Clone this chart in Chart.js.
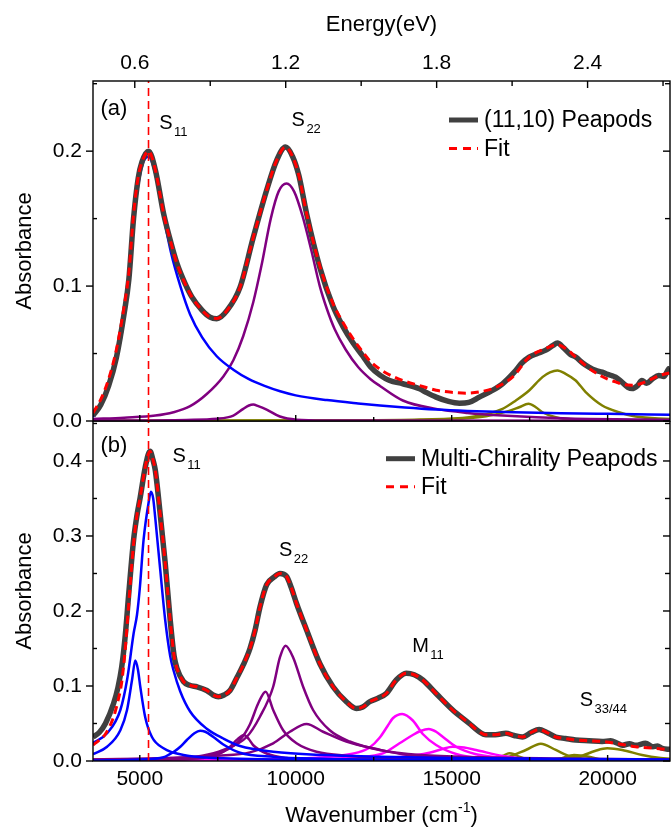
<!DOCTYPE html>
<html><head><meta charset="utf-8">
<script src="https://cdn.jsdelivr.net/npm/chart.js@4.4.1/dist/chart.umd.min.js"></script>
<style>
html,body{margin:0;padding:0;background:#fff;}
#wrap{position:relative;width:671px;height:833px;overflow:hidden;background:#fff;}
canvas{position:absolute;left:0;}
#cTop{top:0;width:671px;height:440px;}
#cBot{top:421px;width:671px;height:412px;}
</style></head><body>
<div id="wrap"><canvas id="cTop" width="671" height="440"></canvas><canvas id="cBot" width="671" height="412"></canvas></div>
<script>
// ---------- axis ranges and tick labels ----------
const waveMin = 3500, waveMax = 22000;
const cmPerEV = 8065.54;
const waveTicks = [5000, 7500, 10000, 12500, 15000, 17500, 20000];
const waveLabels = ['5000', '', '10000', '', '15000', '', '20000'];
const energyTicks = [0.6, 0.9, 1.2, 1.5, 1.8, 2.1, 2.4, 2.7];
const energyLabels = ['0.6', '', '1.2', '', '1.8', '', '2.4', ''];
const absMaxA = 0.252, absMaxB = 0.4533;
const absTicksA = [0, 0.05, 0.1, 0.15, 0.2, 0.25];
const absLabelsA = ['0.0', '', '0.1', '', '0.2', ''];
const absTicksB = [0, 0.05, 0.1, 0.15, 0.2, 0.25, 0.3, 0.35, 0.4, 0.45];
const absLabelsB = ['0.0', '', '0.1', '', '0.2', '', '0.3', '', '0.4', ''];
const s11Position = 5280;

// ---------- panel (a): (11,10) peapods ----------
const topMeasured = [[3500,0.004],[3750,0.012],[4000,0.026],[4250,0.047],[4500,0.080],[4650,0.105],[4800,0.150],[4950,0.180],[5070,0.192],[5280,0.200],[5500,0.186],[5761,0.154],[6000,0.132],[6189,0.117],[6450,0.102],[6669,0.092],[7000,0.082],[7250,0.077],[7468,0.0758],[7800,0.082],[8213,0.099],[8638,0.136],[9067,0.171],[9386,0.193],[9674,0.203],[9900,0.196],[10100,0.182],[10345,0.154],[10771,0.114],[11196,0.085],[11515,0.070],[11835,0.058],[12155,0.048],[12400,0.040],[12700,0.034],[13009,0.030],[13434,0.0276],[13968,0.0239],[14200,0.021],[14501,0.0177],[14900,0.0145],[15246,0.0132],[15550,0.0138],[15886,0.0177],[16250,0.022],[16631,0.0276],[17000,0.036],[17250,0.043],[17484,0.0474],[17750,0.0500],[18018,0.0525],[18250,0.0560],[18389,0.0578],[18600,0.0540],[18800,0.0495],[18977,0.0474],[19200,0.043],[19400,0.040],[19616,0.0375],[19827,0.0362],[20000,0.0345],[20150,0.0335],[20256,0.0325],[20450,0.029],[20650,0.025],[20787,0.024],[20950,0.026],[21100,0.030],[21250,0.028],[21426,0.031],[21640,0.0338],[21800,0.033],[21960,0.0387],[22000,0.039]];
const topFit = [[3500,0.006],[3750,0.016],[4000,0.031],[4250,0.053],[4500,0.085],[4650,0.110],[4800,0.153],[4950,0.181],[5070,0.192],[5280,0.200],[5500,0.186],[5761,0.154],[6000,0.132],[6189,0.117],[6450,0.102],[6669,0.092],[7000,0.082],[7250,0.077],[7468,0.076],[7800,0.082],[8213,0.099],[8638,0.136],[9067,0.171],[9386,0.193],[9674,0.203],[9900,0.196],[10100,0.182],[10345,0.154],[10771,0.115],[11196,0.087],[11515,0.073],[11835,0.061],[12155,0.051],[12400,0.044],[12794,0.037],[13434,0.030],[13968,0.0263],[14501,0.0228],[15032,0.0212],[15461,0.0206],[16000,0.022],[16420,0.025],[16950,0.0325],[17484,0.0474],[18000,0.0535],[18389,0.0565],[18700,0.053],[18977,0.0474],[19300,0.041],[19616,0.0357],[20000,0.031],[20256,0.029],[20500,0.027],[20787,0.0265],[21100,0.028],[21426,0.0313],[21700,0.034],[22000,0.0357]];
const topBlueS11 = [[3500,0.003],[3843,0.016],[4162,0.038],[4431,0.066],[4600,0.095],[4800,0.148],[5050,0.187],[5280,0.196],[5500,0.183],[5761,0.152],[6000,0.125],[6300,0.100],[6614,0.079],[7000,0.062],[7468,0.048],[8000,0.038],[8500,0.031],[9000,0.026],[9500,0.022],[10000,0.019],[11000,0.0155],[12000,0.013],[12700,0.0115],[13500,0.010],[14500,0.0085],[15500,0.0075],[17000,0.0065],[18500,0.0058],[20000,0.0053],[22000,0.0047]];
const topPurpleS22 = [[3500,0.0015],[4500,0.0025],[5500,0.004],[6081,0.0065],[6614,0.011],[7148,0.020],[7679,0.033],[8000,0.045],[8318,0.063],[8638,0.088],[8900,0.115],[9200,0.150],[9450,0.170],[9706,0.176],[9950,0.170],[10217,0.152],[10505,0.126],[10771,0.100],[11000,0.083],[11250,0.068],[11600,0.053],[12000,0.040],[12400,0.031],[12700,0.026],[13434,0.0152],[14501,0.009],[15500,0.006],[16631,0.004],[18763,0.0018],[22000,0.001]];
const topPurpleSmall = [[3500,0.0003],[6500,0.0008],[7468,0.0016],[8000,0.004],[8318,0.009],[8500,0.0115],[8638,0.0122],[8800,0.011],[9067,0.0085],[9492,0.0033],[10026,0.001],[11000,0.0004],[22000,0.0001]];
const topOlive1 = [[3500,0],[12000,0.0005],[14500,0.001],[15500,0.002],[16100,0.0035],[16845,0.0075],[17164,0.0102],[17462,0.0128],[17698,0.0102],[17909,0.0065],[18338,0.0028],[19000,0.001],[22000,0.0002]];
const topOlive2 = [[3500,0.0002],[12000,0.0006],[14000,0.0012],[15566,0.0028],[16631,0.009],[17058,0.0152],[17484,0.0226],[17909,0.0325],[18150,0.036],[18389,0.0375],[18650,0.035],[18977,0.030],[19297,0.0214],[19827,0.0115],[20361,0.0065],[20895,0.0033],[22000,0.0014]];

// ---------- panel (b): multi-chirality peapods ----------
const botMeasured = [[3500,0.032],[3700,0.038],[3900,0.050],[4162,0.077],[4300,0.098],[4420,0.125],[4536,0.168],[4650,0.225],[4802,0.295],[4900,0.325],[5016,0.352],[5176,0.392],[5330,0.413],[5420,0.402],[5496,0.388],[5655,0.329],[5815,0.264],[5975,0.188],[6100,0.140],[6189,0.124],[6400,0.106],[6600,0.101],[6829,0.099],[7148,0.094],[7350,0.088],[7520,0.0857],[7700,0.088],[7893,0.094],[8100,0.110],[8318,0.128],[8533,0.150],[8700,0.175],[8852,0.205],[9067,0.235],[9300,0.245],[9492,0.250],[9706,0.246],[9850,0.232],[10026,0.210],[10345,0.175],[10771,0.130],[11196,0.099],[11624,0.079],[11944,0.070],[12150,0.072],[12369,0.079],[12650,0.084],[12903,0.090],[13223,0.108],[13543,0.117],[13800,0.115],[14073,0.108],[14501,0.090],[15032,0.068],[15566,0.050],[15850,0.040],[16100,0.035],[16400,0.035],[16739,0.037],[17000,0.034],[17270,0.032],[17550,0.038],[17804,0.042],[18050,0.038],[18338,0.032],[18650,0.030],[18977,0.028],[19400,0.027],[19827,0.026],[20100,0.027],[20300,0.024],[20467,0.021],[20700,0.023],[20900,0.021],[21215,0.0236],[21450,0.019],[21600,0.020],[21746,0.017],[21960,0.0156],[22000,0.0155]];
const botFit = [[3500,0.0213],[3700,0.028],[3900,0.036],[4162,0.059],[4300,0.080],[4420,0.105],[4536,0.150],[4650,0.212],[4802,0.290],[4900,0.325],[5016,0.352],[5176,0.392],[5330,0.413],[5420,0.402],[5496,0.388],[5655,0.329],[5815,0.264],[5975,0.188],[6100,0.140],[6189,0.124],[6400,0.106],[6600,0.101],[6829,0.099],[7148,0.094],[7350,0.088],[7520,0.0857],[7700,0.088],[7893,0.094],[8100,0.110],[8318,0.128],[8533,0.150],[8700,0.175],[8852,0.205],[9067,0.235],[9300,0.245],[9492,0.250],[9706,0.246],[9850,0.232],[10026,0.210],[10345,0.175],[10771,0.130],[11196,0.099],[11624,0.079],[11944,0.070],[12150,0.072],[12369,0.079],[12650,0.084],[12903,0.090],[13223,0.108],[13543,0.117],[13800,0.115],[14073,0.108],[14501,0.090],[15032,0.068],[15566,0.050],[15850,0.040],[16100,0.035],[16400,0.035],[16739,0.037],[17000,0.034],[17270,0.032],[17550,0.038],[17804,0.042],[18050,0.038],[18338,0.032],[18650,0.030],[18977,0.028],[19400,0.027],[19827,0.026],[20467,0.022],[20895,0.019],[21500,0.017],[22000,0.015]];
const botBlue1 = [[3500,0.009],[3951,0.019],[4377,0.041],[4591,0.068],[4751,0.108],[4856,0.134],[4940,0.122],[5016,0.099],[5176,0.058],[5390,0.032],[5761,0.017],[6400,0.008],[7679,0.0036],[9277,0.002],[12000,0.001],[22000,0.0003]];
const botBlue2 = [[3500,0.024],[3951,0.037],[4377,0.068],[4600,0.110],[4802,0.170],[4911,0.195],[5000,0.230],[5122,0.295],[5281,0.344],[5358,0.359],[5430,0.350],[5496,0.324],[5655,0.255],[5815,0.188],[5975,0.140],[6081,0.121],[6295,0.093],[6614,0.066],[7148,0.043],[7679,0.030],[8213,0.020],[9277,0.0124],[10876,0.008],[12689,0.0058],[15000,0.004],[18000,0.003],[22000,0.002]];
const botBlue3 = [[3500,0.0005],[5000,0.002],[5761,0.005],[6081,0.012],[6300,0.019],[6509,0.028],[6750,0.037],[6934,0.0404],[7100,0.039],[7359,0.032],[7679,0.022],[8213,0.011],[9277,0.0055],[10876,0.003],[14000,0.0015],[22000,0.0005]];
const botPurple1 = [[3500,0.001],[6081,0.002],[7000,0.004],[7468,0.008],[7893,0.019],[8107,0.028],[8341,0.0347],[8500,0.029],[8638,0.021],[9067,0.010],[9700,0.004],[11000,0.0015],[22000,0.0003]];
const botPurple2 = [[3500,0.001],[6000,0.003],[7000,0.006],[7679,0.0124],[8213,0.028],[8533,0.049],[8799,0.077],[9035,0.0924],[9277,0.068],[9597,0.041],[10026,0.0236],[10665,0.0124],[11730,0.0067],[12689,0.004],[15000,0.002],[22000,0.0008]];
const botPurple3 = [[3500,0.002],[6000,0.004],[7000,0.007],[7679,0.0147],[8427,0.032],[8852,0.059],[9277,0.099],[9492,0.138],[9674,0.1538],[9917,0.138],[10237,0.099],[10556,0.068],[11090,0.041],[11730,0.026],[12689,0.0147],[14000,0.008],[16000,0.005],[19000,0.003],[22000,0.002]];
const botPurple4 = [[3500,0.002],[6000,0.004],[7500,0.007],[8533,0.0115],[9277,0.0236],[9812,0.039],[10345,0.0493],[10876,0.039],[11624,0.0258],[12689,0.015],[13434,0.009],[14500,0.0055],[16000,0.0035],[19000,0.002],[22000,0.0012]];
const botMagenta1 = [[3500,0.0005],[9000,0.002],[10500,0.004],[11400,0.007],[12000,0.0115],[12369,0.018],[12689,0.031],[12950,0.047],[13114,0.057],[13414,0.0627],[13754,0.054],[14073,0.036],[14501,0.0213],[15141,0.0093],[15886,0.0036],[17000,0.0015],[22000,0.0005]];
const botMagenta2 = [[3500,0.0003],[10000,0.002],[12000,0.005],[12794,0.0102],[13328,0.0236],[13754,0.0347],[14000,0.040],[14265,0.0427],[14500,0.039],[14712,0.0324],[15141,0.019],[15780,0.009],[16845,0.0036],[19000,0.0012],[22000,0.0005]];
const botMagenta3 = [[3500,0.0002],[11000,0.002],[13434,0.0058],[14287,0.011],[14700,0.016],[15032,0.019],[15400,0.018],[15780,0.0147],[16631,0.0067],[17500,0.0025],[19000,0.001],[22000,0.0004]];
const botOlive1 = [[3500,0],[14000,0.0005],[15500,0.001],[16206,0.002],[16631,0.0067],[16845,0.0102],[17000,0.009],[17164,0.0058],[17500,0.002],[18500,0.0005],[22000,0.0001]];
const botOlive2 = [[3500,0.0002],[14000,0.001],[16000,0.002],[16845,0.0058],[17378,0.0147],[17858,0.0231],[18338,0.0147],[18763,0.0067],[19500,0.002],[22000,0.0005]];
const botOlive3 = [[3500,0],[17000,0.0005],[18443,0.003],[18923,0.008],[19403,0.0058],[19800,0.002],[22000,0.0003]];
const botOlive4 = [[3500,0.0001],[16000,0.0008],[18000,0.002],[19083,0.0058],[19616,0.0137],[19988,0.0169],[20467,0.0147],[21106,0.008],[21700,0.004],[22000,0.003]];

// ---------- text ----------
const legendA = ['(11,10) Peapods', 'Fit'];
const legendB = ['Multi-Chirality Peapods', 'Fit'];
const labelsA = [{t:'(a)', s:'', x:3737, y:0.2312, big:true}, {t:'S', s:'11', x:5623, y:0.2206}, {t:'S', s:'22', x:9866, y:0.223}];
const labelsB = [{t:'(b)', s:'', x:3737, y:0.420, big:true}, {t:'S', s:'11', x:6049, y:0.4057}, {t:'S', s:'22', x:9460, y:0.2813}, {t:'M', s:'11', x:13734, y:0.1524}, {t:'S', s:'33/44', x:19105, y:0.0803}];

// ---------- styling ----------
const FONT = "'Liberation Sans', Arial, Helvetica, sans-serif";
const tickFont = {family: FONT, size: 21};
const titleFont = {family: FONT, size: 22};
const C = {data:'#404040', fit:'#ff0000', blue:'#0000ff', purple:'#800080', magenta:'#ff00ff', olive:'#808000'};
const compW = 2.5;

const toXY = arr => arr.map(([x, y]) => ({x, y}));
function line(arr, color, width, order, dash) {
  return {data: toXY(arr), borderColor: color, borderWidth: width, pointRadius: 0, fill: false,
    cubicInterpolationMode: 'monotone', borderDash: dash || [], order: order, borderJoinStyle: 'round'};
}
function vline(ymax) {
  return {data: [{x: s11Position, y: 0}, {x: s11Position, y: ymax}], borderColor: C.fit, borderWidth: 1.6,
    pointRadius: 0, fill: false, tension: 0, borderDash: [8, 5], order: 1};
}
function fixed(values, labels) {
  return {
    afterBuildTicks: s => { s.ticks = values.map(v => ({value: v})); },
    cb: (v, i) => labels[i]
  };
}
function seg(ctx, x1, y1, x2, y2) { ctx.beginPath(); ctx.moveTo(x1, y1); ctx.lineTo(x2, y2); ctx.stroke(); }

function makeDeco(cfg) {
  return {
    id: 'deco',
    afterDatasetsDraw(chart) {
      const {ctx, chartArea: a, scales} = chart;
      ctx.save();
      ctx.strokeStyle = '#000'; ctx.lineWidth = 1.4; ctx.setLineDash([]);
      ctx.strokeRect(a.left, a.top, a.right - a.left, a.bottom - a.top);
      const y = scales.y;
      y.ticks.forEach((t, i) => {
        const p = y.getPixelForValue(t.value);
        const major = cfg.yLabels[i] !== '';
        if (major) seg(ctx, a.left - 7, p, a.left, p); else seg(ctx, a.left, p, a.left + 4, p);
        seg(ctx, a.right, p, a.right - (major ? 7 : 5), p);
      });
      const x = scales.x;
      x.ticks.forEach((t, i) => {
        const p = x.getPixelForValue(t.value);
        seg(ctx, p, a.bottom, p, a.bottom - (waveLabels[i] !== '' ? 6 : 4));
      });
      if (scales.xE) {
        scales.xE.ticks.forEach((t, i) => {
          const p = scales.xE.getPixelForValue(t.value);
          seg(ctx, p, a.top, p, a.top + (energyLabels[i] !== '' ? 7 : 5));
        });
      }
      ctx.restore();
    },
    afterDraw(chart) {
      const {ctx, chartArea: a, scales} = chart;
      ctx.save();
      // legend
      const L = cfg.legend;
      L.items.forEach((txt, i) => {
        const yy = L.y + i * L.dy;
        ctx.lineCap = 'butt';
        if (i === 0) { ctx.strokeStyle = C.data; ctx.lineWidth = 5; ctx.setLineDash([]); }
        else { ctx.strokeStyle = C.fit; ctx.lineWidth = 3; ctx.setLineDash([8, 6]); }
        seg(ctx, L.x, yy, L.x + 29, yy);
        ctx.setLineDash([]);
        ctx.fillStyle = '#000'; ctx.font = '23px ' + FONT; ctx.textAlign = 'left'; ctx.textBaseline = 'middle';
        ctx.fillText(txt, L.x + 35, yy + 1);
      });
      // annotations at data coordinates
      cfg.labels.forEach(l => {
        const px = scales.x.getPixelForValue(l.x), py = scales.y.getPixelForValue(l.y);
        ctx.fillStyle = '#000'; ctx.textAlign = 'left'; ctx.textBaseline = 'middle';
        ctx.font = (l.big ? 22 : 20) + 'px ' + FONT;
        ctx.fillText(l.t, px, py);
        if (l.s) {
          const w = ctx.measureText(l.t).width;
          ctx.font = '13px ' + FONT;
          ctx.fillText(l.s, px + w + 1.5, py + 9);
        }
      });
      // bottom axis title with superscript
      if (cfg.waveTitle) {
        const cx = (a.left + a.right) / 2, ty = a.bottom + 55;
        ctx.fillStyle = '#000'; ctx.textBaseline = 'middle'; ctx.textAlign = 'left';
        const p1 = 'Wavenumber (cm', p2 = '-1', p3 = ')';
        ctx.font = '22px ' + FONT; const w1 = ctx.measureText(p1).width, w3 = ctx.measureText(p3).width;
        ctx.font = '14px ' + FONT; const w2 = ctx.measureText(p2).width;
        let sx = cx - (w1 + w2 + w3) / 2;
        ctx.font = '22px ' + FONT; ctx.fillText(p1, sx, ty);
        ctx.font = '14px ' + FONT; ctx.fillText(p2, sx + w1, ty - 8);
        ctx.font = '22px ' + FONT; ctx.fillText(p3, sx + w1 + w2, ty);
      }
      ctx.restore();
    }
  };
}

const baseOpts = {
  responsive: false, animation: false, devicePixelRatio: 1, events: [],
  layout: {padding: {left: 0, right: 1, top: 0, bottom: 0}},
  plugins: {legend: {display: false}, tooltip: {enabled: false}}
};
const off = {grid: {display: false, drawTicks: false}, border: {display: false}};

// ---------- top chart ----------
const fxA = fixed(waveTicks, waveLabels), feA = fixed(energyTicks, energyLabels), fyA = fixed(absTicksA, absLabelsA);
new Chart(document.getElementById('cTop'), {
  type: 'line',
  data: {datasets: [
    vline(absMaxA),
    line(topFit, C.fit, 3, 2, [8, 5]),
    line(topMeasured, C.data, 5.5, 3),
    line(topBlueS11, C.blue, compW, 4),
    line(topPurpleS22, C.purple, compW, 4),
    line(topPurpleSmall, C.purple, compW, 4),
    line(topOlive1, C.olive, compW, 4),
    line(topOlive2, C.olive, compW, 4)
  ]},
  options: Object.assign({}, baseOpts, {
    scales: {
      x: Object.assign({type: 'linear', position: 'bottom', min: waveMin, max: waveMax,
        ticks: {display: false, autoSkip: false},
        afterBuildTicks: fxA.afterBuildTicks,
        afterFit: s => { s.height = 19; s.paddingLeft = 0; s.paddingRight = 0; }}, off),
      xE: Object.assign({type: 'linear', position: 'top', min: waveMin / cmPerEV, max: waveMax / cmPerEV,
        ticks: {font: tickFont, color: '#000', padding: 5, autoSkip: false, maxRotation: 0, callback: feA.cb},
        afterBuildTicks: feA.afterBuildTicks,
        title: {display: true, text: 'Energy(eV)', font: titleFont, color: '#000', padding: {top: 12, bottom: 0}},
        afterFit: s => { s.height = 81; s.paddingLeft = 0; s.paddingRight = 0; }}, off),
      y: Object.assign({type: 'linear', position: 'left', min: 0, max: absMaxA,
        ticks: {font: tickFont, color: '#000', padding: 11, autoSkip: false, callback: fyA.cb},
        afterBuildTicks: fyA.afterBuildTicks,
        title: {display: true, text: 'Absorbance', font: titleFont, color: '#000', padding: {top: 12, bottom: 0}},
        afterFit: s => { s.width = 93; s.paddingTop = 0; s.paddingBottom = 0; }}, off)
    }
  }),
  plugins: [makeDeco({yLabels: absLabelsA, legend: {items: legendA, x: 449, y: 120, dy: 28.5}, labels: labelsA})]
});

// ---------- bottom chart ----------
const fxB = fixed(waveTicks, waveLabels), fyB = fixed(absTicksB, absLabelsB);
new Chart(document.getElementById('cBot'), {
  type: 'line',
  data: {datasets: [
    vline(absMaxB),
    line(botFit, C.fit, 3, 2, [8, 5]),
    line(botMeasured, C.data, 5.5, 3),
    line(botBlue1, C.blue, compW, 4),
    line(botBlue2, C.blue, compW, 4),
    line(botBlue3, C.blue, compW, 4),
    line(botPurple1, C.purple, compW, 4),
    line(botPurple2, C.purple, compW, 4),
    line(botPurple3, C.purple, compW, 4),
    line(botPurple4, C.purple, compW, 4),
    line(botMagenta1, C.magenta, compW, 4),
    line(botMagenta2, C.magenta, compW, 4),
    line(botMagenta3, C.magenta, compW, 4),
    line(botOlive1, C.olive, compW, 4),
    line(botOlive2, C.olive, compW, 4),
    line(botOlive3, C.olive, compW, 4),
    line(botOlive4, C.olive, compW, 4)
  ]},
  options: Object.assign({}, baseOpts, {
    scales: {
      x: Object.assign({type: 'linear', position: 'bottom', min: waveMin, max: waveMax,
        ticks: {font: tickFont, color: '#000', padding: 6, autoSkip: false, maxRotation: 0, callback: fxB.cb},
        afterBuildTicks: fxB.afterBuildTicks,
        afterFit: s => { s.height = 72; s.paddingLeft = 0; s.paddingRight = 0; }}, off),
      y: Object.assign({type: 'linear', position: 'left', min: 0, max: absMaxB,
        ticks: {font: tickFont, color: '#000', padding: 11, autoSkip: false, callback: fyB.cb},
        afterBuildTicks: fyB.afterBuildTicks,
        title: {display: true, text: 'Absorbance', font: titleFont, color: '#000', padding: {top: 12, bottom: 0}},
        afterFit: s => { s.width = 93; s.paddingTop = 0; s.paddingBottom = 0; }}, off)
    }
  }),
  plugins: [makeDeco({yLabels: absLabelsB, legend: {items: legendB, x: 386, y: 37.7, dy: 28}, labels: labelsB, waveTitle: true})]
});
</script>
</body></html>
